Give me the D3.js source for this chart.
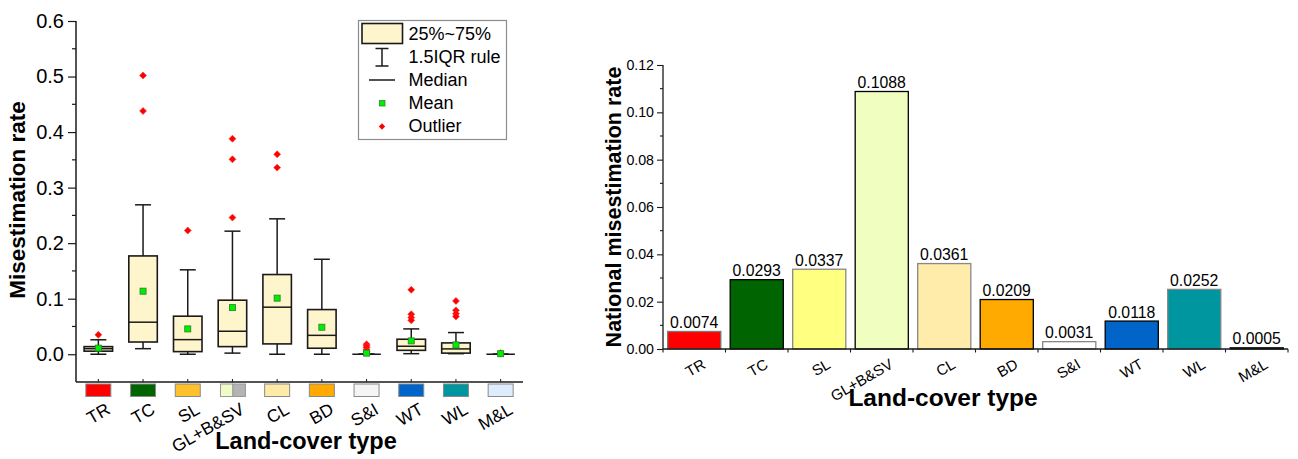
<!DOCTYPE html>
<html>
<head>
<meta charset="utf-8">
<script src="https://cdn.jsdelivr.net/npm/d3@7"></script>
<style>
  html, body { margin: 0; padding: 0; background: #fff; }
  svg { display: block; font-family: "Liberation Sans", Arial, sans-serif; }
</style>
</head>
<body>
<svg id="chart" width="1298" height="459"></svg>
<script>
// ---------------- DATA ----------------
const categories = ["TR", "TC", "SL", "GL+B&SV", "CL", "BD", "S&I", "WT", "WL", "M&L"];

// Left panel: box-plot statistics of misestimation rate
const whiskerLow  = [0.000, 0.010, 0.000, 0.002, 0.000, 0.000, 0.000, 0.001, 0.001, 0.000];
const q1          = [0.0055, 0.022, 0.0047, 0.0137, 0.0186, 0.0108, 0.000, 0.007, 0.002, 0.000];
const medians     = [0.010, 0.0577, 0.0263, 0.0414, 0.0847, 0.034, 0.000, 0.0144, 0.0096, 0.000];
const q3          = [0.0137, 0.177, 0.0685, 0.0973, 0.1435, 0.0804, 0.000, 0.027, 0.0204, 0.000];
const whiskerHigh = [0.026, 0.269, 0.152, 0.2216, 0.2438, 0.171, 0.000, 0.0456, 0.039, 0.000];
const means       = [0.011, 0.1135, 0.0456, 0.084, 0.101, 0.0486, 0.002, 0.024, 0.0168, 0.001];
const outliers    = [
  [0.035],
  [0.502, 0.438],
  [0.2227],
  [0.388, 0.351, 0.246],
  [0.360, 0.336],
  [],
  [0.018, 0.015, 0.012, 0.008, 0.005],
  [0.116, 0.072, 0.066, 0.061],
  [0.096, 0.079, 0.073, 0.068],
  [0.002]
];
const leftTicks = [0, 0.1, 0.2, 0.3, 0.4, 0.5, 0.6];

// Right panel: national misestimation rate
const nationalRates = [0.0074, 0.0293, 0.0337, 0.1088, 0.0361, 0.0209, 0.0031, 0.0118, 0.0252, 0.0005];
const rateLabels = ["0.0074", "0.0293", "0.0337", "0.1088", "0.0361", "0.0209", "0.0031", "0.0118", "0.0252", "0.0005"];
const rightTicks = [0, 0.02, 0.04, 0.06, 0.08, 0.10, 0.12];

// Colours
const swatchColors = ["#ff0000", "#006400", "#ffc12b", ["#f0fcc8", "#b4b4b4"], "#ffeaa8", "#ffaa00", "#f5f5f5", "#0064c8", "#0096a0", "#deedfe"];
const barColors    = ["#ff0000", "#006400", "#ffff80", "#f0ffc0", "#ffebaa", "#ffaa00", "#ffffff", "#0064c8", "#0096a0", "#deedfe"];
const barStrokes   = ["#777777", "#000000", "#888888", "#000000", "#888888", "#000000", "#888888", "#000000", "#888888", "#000000"];

const legendItems = ["25%~75%", "1.5IQR rule", "Median", "Mean", "Outlier"];

// ---------------- DRAW ----------------
const svg = d3.select("#chart");
const FONT = "'Liberation Sans', Arial, sans-serif";
const boxFill = "#fff5cc";
const ink = "#1a1a1a";

// ===== LEFT PANEL =====
const L = {x0: 76, x1: 523, yTop: 21, yBot: 382};
const xL = d3.scaleBand().domain(categories).range([L.x0, L.x1]);
const yL = d3.scaleLinear().domain([-0.05, 0.6]).range([L.yBot, L.yTop]);
const gL = svg.append("g");

// y axis
const yAxisL = d3.axisLeft(yL).tickValues(leftTicks).tickFormat(d3.format(".1f")).tickSize(8).tickPadding(4);
const gyL = gL.append("g").attr("transform", `translate(${L.x0},0)`).call(yAxisL);
gyL.select(".domain").attr("stroke", ink).attr("stroke-width", 1.5).attr("d", `M0,${L.yBot}V${L.yTop}`);
gyL.selectAll(".tick line").attr("stroke", ink).attr("stroke-width", 1.2);
gyL.selectAll(".tick text").attr("font-size", 20).attr("font-family", FONT).attr("fill", "#000");
// minor ticks
const minorL = d3.range(0.05, 0.6, 0.1);
gL.selectAll(".minorL").data(minorL).join("line")
  .attr("x1", L.x0 - 4).attr("x2", L.x0)
  .attr("y1", d => yL(d)).attr("y2", d => yL(d))
  .attr("stroke", ink).attr("stroke-width", 1.2);

// x axis
const xAxisL = d3.axisBottom(xL).tickSize(-3).tickFormat("");
const gxL = gL.append("g").attr("transform", `translate(0,${L.yBot})`).call(xAxisL);
gxL.select(".domain").attr("stroke", ink).attr("stroke-width", 1.5).attr("d", `M${L.x0},0H${L.x1}`);
gxL.selectAll(".tick line").attr("stroke", ink);

// colour swatches under axis
const swW = 25, swH = 12.5, swY = L.yBot + 2;
categories.forEach((c, i) => {
  const cx = xL(c) + xL.bandwidth() / 2;
  const col = swatchColors[i];
  if (Array.isArray(col)) {
    gL.append("rect").attr("x", cx - swW / 2 + 0.5).attr("y", swY).attr("width", swW / 2).attr("height", swH)
      .attr("fill", col[0]).attr("stroke", "#999").attr("stroke-width", 1);
    gL.append("rect").attr("x", cx + 0.5).attr("y", swY).attr("width", swW / 2).attr("height", swH)
      .attr("fill", col[1]).attr("stroke", "#999").attr("stroke-width", 1);
  } else {
    gL.append("rect").attr("x", cx - swW / 2).attr("y", swY).attr("width", swW).attr("height", swH)
      .attr("fill", col).attr("stroke", "#8a8a8a").attr("stroke-width", 1);
  }
});

// rotated x labels
gL.selectAll(".xlabL").data(categories).join("text")
  .attr("transform", d => `translate(${xL(d) + xL.bandwidth() / 2 + 7},${L.yBot + 20}) rotate(-30)`)
  .attr("text-anchor", "end").attr("dy", "0.71em")
  .attr("font-size", 17.5).attr("font-family", FONT).attr("fill", "#000")
  .text(d => d);

// axis titles
gL.append("text").attr("x", 306).attr("y", 449).attr("text-anchor", "middle")
  .attr("font-size", 23.5).attr("font-weight", "bold").attr("font-family", FONT).text("Land-cover type");
gL.append("text").attr("transform", "translate(25,200) rotate(-90)").attr("text-anchor", "middle")
  .attr("font-size", 22.5).attr("font-weight", "bold").attr("font-family", FONT).text("Misestimation rate");

// boxes
const boxW = 28.5, capW = 14;
categories.forEach((c, i) => {
  const cx = xL(c) + xL.bandwidth() / 2;
  const g = gL.append("g");
  // whiskers
  g.append("line").attr("x1", cx).attr("x2", cx).attr("y1", yL(whiskerHigh[i])).attr("y2", yL(q3[i]))
    .attr("stroke", ink).attr("stroke-width", 1.5);
  g.append("line").attr("x1", cx).attr("x2", cx).attr("y1", yL(q1[i])).attr("y2", yL(whiskerLow[i]))
    .attr("stroke", ink).attr("stroke-width", 1.5);
  [whiskerHigh[i], whiskerLow[i]].forEach(v => {
    g.append("line").attr("x1", cx - capW / 2 - 1).attr("x2", cx + capW / 2 + 1).attr("y1", yL(v)).attr("y2", yL(v))
      .attr("stroke", ink).attr("stroke-width", 1.5);
  });
  // box
  g.append("rect").attr("x", cx - boxW / 2).attr("y", yL(q3[i]))
    .attr("width", boxW).attr("height", Math.max(0, yL(q1[i]) - yL(q3[i])))
    .attr("fill", boxFill).attr("stroke", ink).attr("stroke-width", 1.6);
  // median
  g.append("line").attr("x1", cx - boxW / 2).attr("x2", cx + boxW / 2).attr("y1", yL(medians[i])).attr("y2", yL(medians[i]))
    .attr("stroke", ink).attr("stroke-width", 1.5);
  // outliers
  outliers[i].forEach(v => {
    g.append("path").attr("transform", `translate(${cx},${yL(v)}) rotate(45)`)
      .attr("d", d3.symbol(d3.symbolSquare, 24)()).attr("fill", "#ff0000").attr("stroke", "#ff3030").attr("stroke-width", 0.6);
  });
  // mean
  g.append("rect").attr("x", cx - 3).attr("y", yL(means[i]) - 3).attr("width", 6).attr("height", 6)
    .attr("fill", "#00ee00").attr("stroke", "#2a8a2a").attr("stroke-width", 0.9);
});

// legend
const lg = gL.append("g");
lg.append("rect").attr("x", 358.5).attr("y", 20.5).attr("width", 148).attr("height", 119)
  .attr("fill", "#fff").attr("stroke", "#8c8c8c").attr("stroke-width", 1.2);
const rowY = i => 39.5 + i * 23.2;
lg.append("rect").attr("x", 362).attr("y", 23.5).attr("width", 40.5).attr("height", 20)
  .attr("fill", boxFill).attr("stroke", ink).attr("stroke-width", 1.6);
lg.append("line").attr("x1", 382).attr("x2", 382).attr("y1", 48.5).attr("y2", 66).attr("stroke", ink).attr("stroke-width", 1.5);
lg.append("line").attr("x1", 375.5).attr("x2", 388.5).attr("y1", 48.5).attr("y2", 48.5).attr("stroke", ink).attr("stroke-width", 1.5);
lg.append("line").attr("x1", 375.5).attr("x2", 388.5).attr("y1", 66).attr("y2", 66).attr("stroke", ink).attr("stroke-width", 1.5);
lg.append("line").attr("x1", 369).attr("x2", 395).attr("y1", 80).attr("y2", 80).attr("stroke", ink).attr("stroke-width", 1.5);
lg.append("rect").attr("x", 379.5).attr("y", 100.5).attr("width", 5.5).attr("height", 5.5)
  .attr("fill", "#00ee00").attr("stroke", "#2a8a2a").attr("stroke-width", 0.8);
lg.append("path").attr("transform", "translate(382,126.5) rotate(45)")
  .attr("d", d3.symbol(d3.symbolSquare, 20)()).attr("fill", "#ff0000");
lg.selectAll(".lgt").data(legendItems).join("text")
  .attr("x", 408.5).attr("y", (d, i) => rowY(i))
  .attr("font-size", 18).attr("font-family", FONT).attr("fill", "#000").text(d => d);

// ===== RIGHT PANEL =====
const R = {x0: 663, x1: 1288, yTop: 65, yBot: 349};
const xR = d3.scaleBand().domain(categories).range([R.x0, R.x1]).paddingInner(0.15).paddingOuter(0.075);
const yR = d3.scaleLinear().domain([0, 0.12]).range([R.yBot, R.yTop]);
const gR = svg.append("g");

const yAxisR = d3.axisLeft(yR).tickValues(rightTicks).tickFormat(d3.format(".2f")).tickSize(6).tickPadding(3);
const gyR = gR.append("g").attr("transform", `translate(${R.x0},0)`).call(yAxisR);
gyR.select(".domain").attr("stroke", ink).attr("stroke-width", 1.3).attr("d", `M0,${R.yBot}V${R.yTop}`);
gyR.selectAll(".tick line").attr("stroke", ink).attr("stroke-width", 1.1);
gyR.selectAll(".tick text").attr("font-size", 14.2).attr("font-family", FONT).attr("fill", "#000");
const minorR = d3.range(0.01, 0.12, 0.02);
gR.selectAll(".minorR").data(minorR).join("line")
  .attr("x1", R.x0 - 3).attr("x2", R.x0)
  .attr("y1", d => yR(d)).attr("y2", d => yR(d))
  .attr("stroke", ink).attr("stroke-width", 1.1);

// bars
gR.selectAll(".bar").data(categories).join("rect")
  .attr("x", d => xR(d)).attr("width", xR.bandwidth())
  .attr("y", (d, i) => yR(nationalRates[i])).attr("height", (d, i) => yR(0) - yR(nationalRates[i]))
  .attr("fill", (d, i) => barColors[i]).attr("stroke", (d, i) => barStrokes[i]).attr("stroke-width", 1.3);

// x axis with ticks at band boundaries
const bounds = d3.range(0, categories.length + 1).map(i => R.x0 + i * (R.x1 - R.x0) / categories.length);
gR.append("line").attr("x1", R.x0).attr("x2", R.x1).attr("y1", R.yBot).attr("y2", R.yBot)
  .attr("stroke", ink).attr("stroke-width", 1.3);
gR.selectAll(".xb").data(bounds).join("line")
  .attr("x1", d => d).attr("x2", d => d).attr("y1", R.yBot).attr("y2", R.yBot + 3.5)
  .attr("stroke", ink).attr("stroke-width", 1.1);

// value labels
gR.selectAll(".vl").data(categories).join("text")
  .attr("x", d => xR(d) + xR.bandwidth() / 2).attr("y", (d, i) => yR(nationalRates[i]) - 3.5)
  .attr("text-anchor", "middle").attr("font-size", 15.8).attr("font-family", FONT).attr("fill", "#000")
  .text((d, i) => rateLabels[i]);

// rotated x labels
gR.selectAll(".xlabR").data(categories).join("text")
  .attr("transform", d => `translate(${xR(d) + xR.bandwidth() / 2 + 7},${R.yBot + 9}) rotate(-30)`)
  .attr("text-anchor", "end").attr("dy", "0.71em")
  .attr("font-size", 15).attr("font-family", FONT).attr("fill", "#000")
  .text(d => d);

gR.append("text").attr("x", 943).attr("y", 406).attr("text-anchor", "middle")
  .attr("font-size", 24.5).attr("font-weight", "bold").attr("font-family", FONT).text("Land-cover type");
gR.append("text").attr("transform", "translate(621,207) rotate(-90)").attr("text-anchor", "middle")
  .attr("font-size", 21.5).attr("font-weight", "bold").attr("font-family", FONT).text("National misestimation rate");
</script>
</body>
</html>
